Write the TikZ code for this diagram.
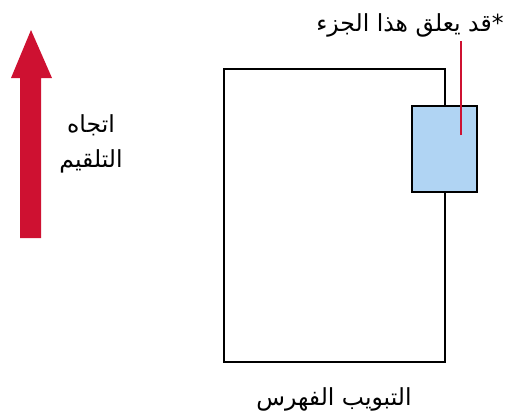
\documentclass[tikz,border=0pt]{standalone}
\usepackage{fontspec}
\newfontfamily\arabicfont[Script=Arabic]{DejaVu Sans}
\TeXXeTstate=1
\usetikzlibrary{positioning}
\definecolor{feedred}{RGB}{206,17,49}
\definecolor{tabblue}{RGB}{176,212,243}
\tikzstyle{arlabel} = [font=\arabicfont\fontsize{23.5}{35}\selectfont, inner sep=0pt]
\tikzstyle{sheet}   = [rectangle, draw=black, line width=2pt, fill=white]
\tikzstyle{tabbox}  = [sheet, fill=tabblue]

\begin{document}
\begin{tikzpicture}[x=1pt, y=-1pt]
  \useasboundingbox (0,0) rectangle (510,416);
  %Feed direction
  \fill[feedred] (20,238) -- (20,78) -- (11,78) -- (31,30) -- (52,78) -- (41,78) -- (41,238) -- cycle;
  \node[arlabel, align=center] (feed) at (91,144) {\beginR اتجاه\endR\\\beginR التلقيم\endR};

  %Sheet and tab
  \node[sheet, minimum width=221pt, minimum height=293pt] (sheet) at (334.5,215.5) {};
  \node[tabbox, minimum width=65pt, minimum height=86pt] (tab) at (444.5,149) {};
  \node[arlabel] (index) at (334,399) {\beginR التبويب الفهرس\endR};

  %Note
  \node[arlabel] (note) at (410,25) {\beginR *قد يعلق هذا الجزء\endR};
  \coordinate (pin) at (461,135);
  \coordinate (pintop) at (461,41);
  \draw[feedred, line width=1.6pt] (pin) -- (pintop);
\end{tikzpicture}
\end{document}
